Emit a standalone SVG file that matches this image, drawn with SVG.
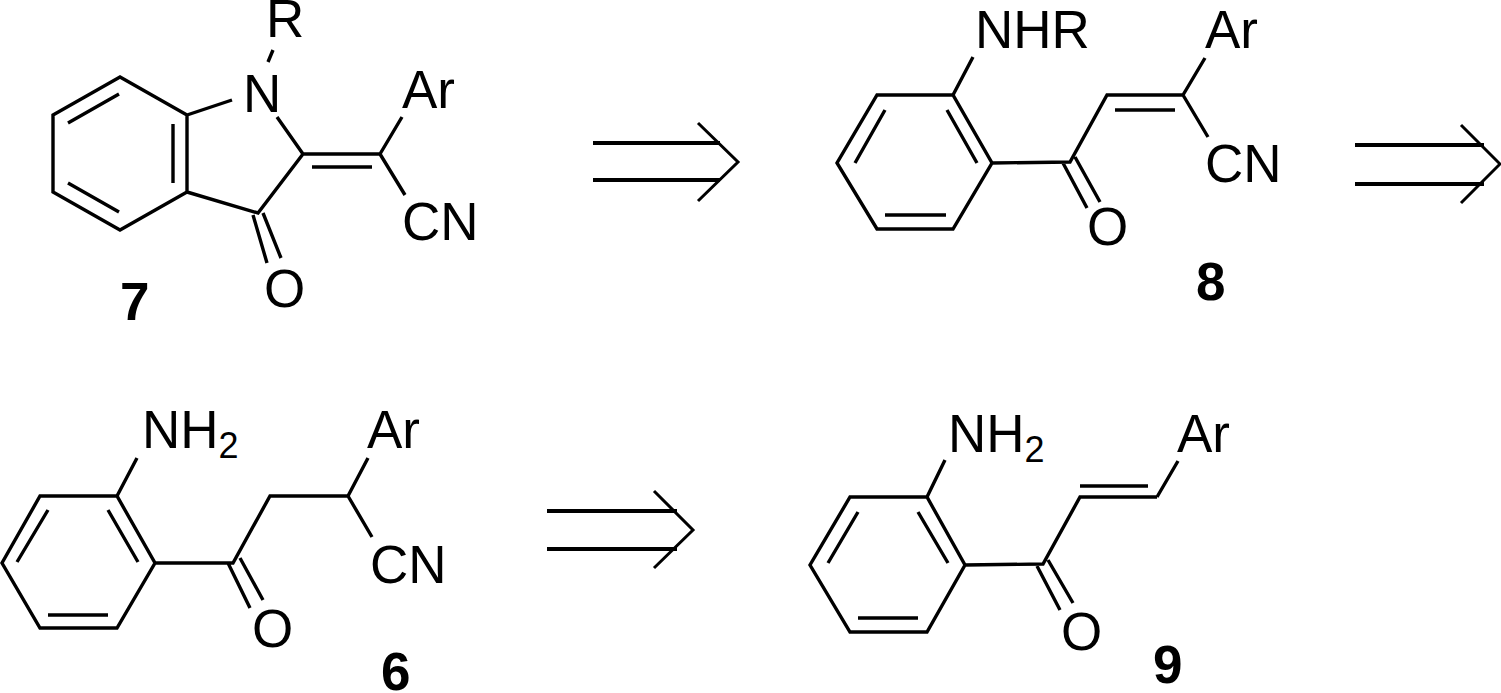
<svg xmlns="http://www.w3.org/2000/svg" width="1501" height="693" viewBox="0 0 1501 693">
<style>
.b{stroke:#000;stroke-width:3.4;fill:none;stroke-linecap:butt;stroke-linejoin:miter}
.a{stroke:#000;stroke-width:4;fill:none}
.h{stroke:#000;stroke-width:3;fill:none}
text{font-family:"Liberation Sans",Arial,sans-serif;font-size:53px;fill:#000}
.n{font-weight:bold}
.s{font-size:36px}
</style>
<rect width="1501" height="693" fill="#fff"/>
<g id="c7">
<path class="b" d="M120,77 L53,115 L53,192 L120,230 L187,192 L187,115 Z M68,123 L119,94 M68,183 L119,212 M173,124 L173,183 M187,115 L232,100 M273,50 L268,62 M277,117 L303,154 L258,213 L187,192 M253,215 L267,263 M263,213 L281,258 M303,154 L380,154 M312,167 L372,167 M380,154 L402,117 M380,154 L405,195"/>
<text x="243" y="112">N</text>
<text x="266" y="37">R</text>
<text x="264" y="307">O</text>
<text x="402" y="108">Ar</text>
<text x="402" y="240">CN</text>
<text class="n" x="120" y="320">7</text>
</g>
<g id="c8">
<path class="b" d="M877,95 L953,95 L992,163 L953,229 L877,229 L837,163 Z M947,110 L977,163 M885,215 L946,215 M855,163 L885,110 M953,95 L973,57 M992,163 L1070,162 L1107,95 L1183,95 M1063,163 L1087,208 M1075,157 L1100,202 M1115,110 L1175,110 M1183,95 L1205,58 M1183,95 L1208,137"/>
<text x="975" y="48">NHR</text>
<text x="1087" y="245">O</text>
<text x="1205" y="48">Ar</text>
<text x="1205" y="182">CN</text>
<text class="n" x="1196" y="300">8</text>
</g>
<g id="c6">
<path class="b" d="M40,496 L117,496 L155,563 L117,628 L40,628 L2,563 Z M108,510 L138,562 M48,615 L108,615 M17,562 L48,510 M117,496 L137,458 M155,563 L233,563 L270,496 L348,496 M228,563 L250,608 M240,558 L263,600 M348,496 L368,458 M348,496 L372,537"/>
<text x="142" y="448">NH<tspan class="s" dy="10">2</tspan></text>
<text x="252" y="647">O</text>
<text x="367" y="448">Ar</text>
<text x="370" y="583">CN</text>
<text class="n" x="381" y="690">6</text>
</g>
<g id="c9">
<path class="b" d="M850,497 L927,497 L965,565 L927,632 L850,632 L810,565 Z M918,512 L948,563 M858,618 L918,618 M828,563 L858,512 M927,497 L945,460 M965,565 L1043,564 L1080,497 L1157,497 M1037,566 L1060,610 M1048,560 L1073,603 M1080,486 L1148,486 M1157,497 L1178,461"/>
<text x="948" y="452">NH<tspan class="s" dy="10">2</tspan></text>
<text x="1061" y="650">O</text>
<text x="1177" y="452">Ar</text>
<text class="n" x="1153" y="683">9</text>
</g>
<g id="arrows">
<path class="a" d="M593,143 L720,143 M593,180 L720,180 M1355,145 L1484,145 M1355,184 L1484,184 M547,511 L677,511 M547,549 L677,549"/>
<path class="h" d="M698,123 L738,162 L698,201 M1461,125 L1500,164 L1461,203 M654,491 L693,530 L654,568"/>
</g>
</svg>
